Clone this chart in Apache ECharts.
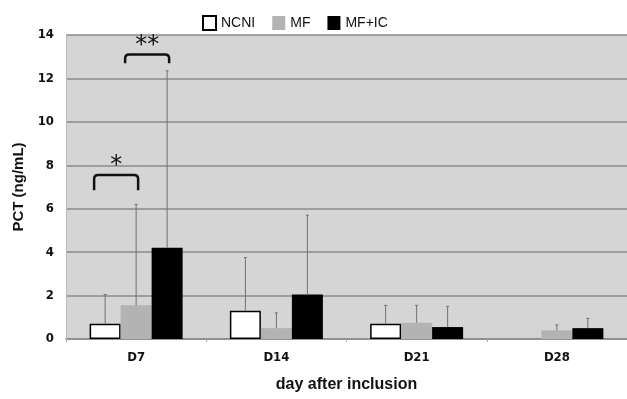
<!DOCTYPE html>
<html>
<head>
<meta charset="utf-8">
<script src="https://cdn.jsdelivr.net/npm/echarts@6/dist/echarts.min.js"></script>
<style>
  html, body { margin: 0; padding: 0; background: #fff; }
  #chart { width: 627px; height: 399px; }
</style>
</head>
<body>
<div id="chart"></div>
<script>
var categories = ['D7', 'D14', 'D21', 'D28'];
var seriesNames = ['NCNI', 'MF', 'MF+IC'];
var ncniMean = [0.7, 1.3, 0.7, null];
var ncniErrTop = [2.05, 3.75, 1.55, null];
var mfMean = [1.55, 0.5, 0.75, 0.4];
var mfErrTop = [6.2, 1.2, 1.55, 0.65];
var mficMean = [4.2, 2.05, 0.55, 0.5];
var mficErrTop = [12.35, 5.7, 1.5, 0.95];
var yTicks = [0, 2, 4, 6, 8, 10, 12, 14];
// significance brackets on D7: [category, fromSeries, toSeries, topValue, bottomValue, label]
var brackets = [
	[0, 0, 1, 7.55, 6.85, '*'],
	[0, 1, 2, 13.1, 12.7, '**']
];

var colors = ['#ffffff', '#b3b3b3', '#000000'];
var means = [ncniMean, mfMean, mficMean];
var errTops = [ncniErrTop, mfErrTop, mficErrTop];
var barW = 31;

function barCenter(api, cat, s, val) {
	var p = api.coord([cat, val]);
	return [p[0] + (s - 1) * barW, p[1]];
}

var errData = [];
for (var s = 0; s < 3; s++) {
	for (var i = 0; i < categories.length; i++) {
		if (errTops[s][i] != null) {
			errData.push([i, s, means[s][i], errTops[s][i]]);
		}
	}
}

var series = [];
for (var s = 0; s < 3; s++) {
	series.push({
		type: 'bar',
		name: seriesNames[s],
		data: means[s],
		barWidth: barW,
		barGap: '0%',
		itemStyle: {
			color: colors[s],
			borderColor: '#000',
			borderWidth: s == 0 ? 1.5 : 0
		}
	});
}

series.push({
	type: 'custom',
	name: 'err',
	silent: true,
	z: 5,
	data: errData,
	renderItem: function(params, api) {
		var cat = api.value(0), s = api.value(1);
		var lo = barCenter(api, cat, s, api.value(2));
		var hi = barCenter(api, cat, s, api.value(3));
		var st = { stroke: '#707070', lineWidth: 1 };
		return {
			type: 'group',
			children: [
				{ type: 'line', shape: { x1: lo[0], y1: lo[1], x2: hi[0], y2: hi[1] }, style: st },
				{ type: 'line', shape: { x1: hi[0] - 1.5, y1: hi[1], x2: hi[0] + 1.5, y2: hi[1] }, style: st }
			]
		};
	}
});

series.push({
	type: 'custom',
	name: 'sig',
	silent: true,
	z: 6,
	data: brackets,
	renderItem: function(params, api) {
		var b = brackets[params.dataIndex];
		var l = barCenter(api, b[0], b[1], b[3]);
		var r = barCenter(api, b[0], b[2], b[4]);
		var x1 = l[0] - 11, x2 = r[0] + 2;
		var yT = l[1], yB = r[1];
		var rad = 4;
		var path = 'M' + x1 + ' ' + yB + ' L' + x1 + ' ' + (yT + rad) +
			' Q' + x1 + ' ' + yT + ' ' + (x1 + rad) + ' ' + yT +
			' L' + (x2 - rad) + ' ' + yT +
			' Q' + x2 + ' ' + yT + ' ' + x2 + ' ' + (yT + rad) +
			' L' + x2 + ' ' + yB;
		return {
			type: 'group',
			children: [
				{ type: 'path', shape: { pathData: path }, style: { fill: null, stroke: '#111', lineWidth: 2.5 } },
				{ type: 'text', style: { text: b[5], x: (x1 + x2) / 2, y: yT + 3, align: 'center', verticalAlign: 'bottom',
					font: '24px "DejaVu Sans"', fill: '#111' } }
			]
		};
	}
});

var chart = echarts.init(document.getElementById('chart'));
chart.setOption({
	animation: false,
	backgroundColor: '#ffffff',
	legend: {
		data: seriesNames,
		top: 10,
		left: 197,
		itemWidth: 13,
		itemHeight: 14,
		itemGap: 17,
		icon: 'rect',
		textStyle: { color: '#111', fontSize: 14, fontFamily: 'Liberation Sans' }
	},
	grid: {
		left: 66,
		right: 0,
		top: 35,
		bottom: 60,
		show: true,
		backgroundColor: '#d5d5d5',
		borderWidth: 0
	},
	xAxis: {
		type: 'category',
		data: categories,
		name: 'day after inclusion',
		nameLocation: 'middle',
		nameGap: 38,
		nameTextStyle: { color: '#111', fontSize: 16, fontWeight: 'bold', fontFamily: 'Liberation Sans' },
		axisLine: { lineStyle: { color: '#8c8c8c', width: 1.5 } },
		axisTick: { show: true, length: 3, lineStyle: { color: '#aaa' } },
		axisLabel: { color: '#111', fontSize: 13, fontWeight: 'bold', fontFamily: 'DejaVu Sans Condensed', margin: 12 }
	},
	yAxis: {
		type: 'value',
		min: yTicks[0],
		max: yTicks[yTicks.length - 1],
		interval: 2,
		name: 'PCT (ng/mL)',
		nameLocation: 'middle',
		nameGap: 40,
		nameTextStyle: { color: '#111', fontSize: 15, fontWeight: 'bold', fontFamily: 'Liberation Sans' },
		axisLine: { show: true, lineStyle: { color: '#bbb' } },
		axisTick: { show: false },
		axisLabel: { color: '#111', fontSize: 13, fontWeight: 'bold', fontFamily: 'DejaVu Sans Condensed', margin: 12 },
		splitLine: { lineStyle: { color: '#8a8a8a', width: 1.5 } }
	},
	series: series
});
</script>
</body>
</html>
